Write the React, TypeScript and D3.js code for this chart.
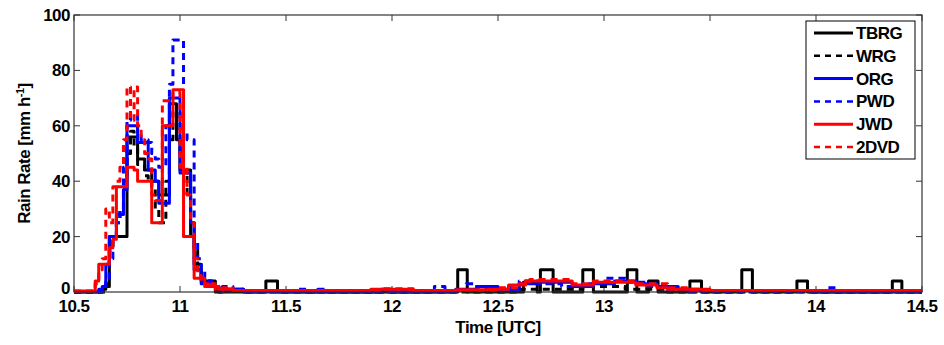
import React from "react";
import * as d3 from "d3";

// storm core sampled every minute starting at T0 (hours UTC)
const T0 = 10.6;
const tbrgMain = [0, 0, 1, 2, 20, 20, 20, 20, 20, 56, 56, 56, 48, 48, 44, 44, 40, 40, 35, 35, 35, 68, 68, 55, 44, 44, 44, 20, 10, 10, 4, 4, 4, 4, 0, 0, 0];
const wrgMain = [0, 0, 0, 3, 15, 20, 25, 30, 40, 50, 58, 52, 46, 46, 42, 40, 38, 30, 25, 25, 40, 55, 65, 65, 50, 42, 35, 25, 15, 8, 5, 3, 2, 2, 1, 0, 0];
const orgMain = [0, 1, 2, 10, 20, 20, 28, 28, 37, 60, 60, 60, 54, 54, 54, 44, 44, 40, 32, 32, 32, 70, 70, 70, 43, 43, 43, 25, 8, 8, 3, 3, 4, 2, 2, 1, 0];
const pwdMain = [0, 0, 2, 5, 12, 20, 25, 30, 45, 62, 64, 64, 58, 55, 55, 54, 50, 48, 45, 45, 60, 75, 91, 91, 91, 58, 55, 55, 18, 12, 8, 5, 4, 3, 2, 1, 1];
const jwdMain = [4, 10, 10, 10, 16, 19, 38, 38, 38, 45, 45, 44, 40, 40, 40, 40, 25, 25, 25, 60, 60, 60, 73, 73, 73, 20, 20, 20, 5, 5, 5, 2, 2, 3, 2, 1, 1];
const dvdMain = [3, 8, 12, 30, 25, 38, 40, 45, 55, 74, 62, 74, 60, 55, 50, 48, 35, 33, 33, 69, 69, 69, 72, 72, 45, 45, 35, 25, 12, 6, 4, 3, 2, 2, 1, 1, 1];

// light rain afterwards: [time, rate] break points, each held until the next
const tbrgTail: [number, number][] = [
  [11.2, 0], [11.405, 4], [11.46, 0], [12.31, 8], [12.355, 0], [12.62, 3.5], [12.685, 0],
  [12.7, 8], [12.76, 0], [12.9, 8], [12.95, 0], [13.11, 8], [13.155, 0], [13.21, 4], [13.255, 0],
  [13.405, 4], [13.46, 0], [13.65, 8], [13.7, 0], [13.91, 4], [13.96, 0], [14.36, 4], [14.405, 0], [14.5, 0],
];
const wrgTail: [number, number][] = [
  [11.2, 1], [11.3, 0], [12.6, 1], [12.9, 2], [13.1, 1], [13.3, 0], [14.5, 0],
];
const orgTail: [number, number][] = [
  [11.2, 1], [11.3, 0], [11.95, 1], [12.0, 0], [12.3, 1], [12.4, 2], [12.5, 1], [12.6, 3], [12.7, 3.5],
  [12.85, 2], [12.95, 3], [13.05, 4], [13.15, 3], [13.25, 2], [13.35, 1], [13.45, 0.5], [14.0, 0], [14.5, 0],
];
const pwdTail: [number, number][] = [
  [11.2, 2], [11.25, 1], [11.3, 0.5], [11.55, 1], [11.6, 0], [11.65, 1], [11.7, 0], [12.2, 2], [12.25, 0.5],
  [12.35, 3], [12.4, 1], [12.55, 2], [12.6, 4], [12.7, 3], [12.8, 2], [12.9, 3], [13.0, 5], [13.1, 3.5],
  [13.2, 2], [13.3, 1], [13.4, 0], [14.05, 1.5], [14.1, 0], [14.5, 0],
];
const jwdTail: [number, number][] = [
  [11.2, 1], [11.25, 0.5], [11.9, 1], [12.1, 0.5], [12.3, 0.8], [12.45, 1], [12.55, 2.5], [12.63, 4],
  [12.85, 2.5], [12.95, 3.5], [13.15, 2.5], [13.25, 1.5], [13.3, 1], [13.5, 0.5], [14.5, 0.5],
];
const dvdTail: [number, number][] = [
  [11.2, 1.5], [11.25, 0.5], [11.95, 1.2], [12.1, 0.5], [12.5, 1.5], [12.6, 3], [12.65, 4.5], [12.85, 3],
  [12.95, 4], [13.15, 3], [13.3, 1.5], [13.4, 0.5], [14.5, 0.5],
];

const xTicks = [10.5, 11, 11.5, 12, 12.5, 13, 13.5, 14, 14.5];
const yTicks = [0, 20, 40, 60, 80, 100];

const series = [
  { name: "TBRG", lead: 0, main: tbrgMain, tail: tbrgTail, color: "#000000", dash: "" },
  { name: "WRG", lead: 0, main: wrgMain, tail: wrgTail, color: "#000000", dash: "7,5" },
  { name: "ORG", lead: 0, main: orgMain, tail: orgTail, color: "#0000ff", dash: "" },
  { name: "PWD", lead: 0, main: pwdMain, tail: pwdTail, color: "#0000ff", dash: "7,5" },
  { name: "JWD", lead: 0.4, main: jwdMain, tail: jwdTail, color: "#ff0000", dash: "" },
  { name: "2DVD", lead: 0.4, main: dvdMain, tail: dvdTail, color: "#ff0000", dash: "7,5" },
];

const W = 944;
const H = 345;
const left = 74, right = 922, top = 15, bottom = 292;
const font = "'Liberation Sans', Arial, sans-serif";

export default function App() {
  const x = d3.scaleLinear().domain([10.5, 14.5]).range([left, right]);
  const y = d3.scaleLinear().domain([0, 100]).range([bottom, top]);
  const line = d3
    .line<[number, number]>()
    .x((d) => x(d[0]))
    .y((d) => y(d[1]))
    .curve(d3.curveStepAfter);

  const axisColor = "#333333";

  return (
    <svg
      width={W}
      height={H}
      style={{ position: "absolute", left: 0, top: 0, background: "#fff" }}
      fontFamily={font}
      fontWeight="bold"
    >
      <defs>
        <clipPath id="plot">
          <rect x={left} y={top - 2} width={right - left} height={bottom - top + 4} />
        </clipPath>
      </defs>
      <rect x={left} y={top} width={right - left} height={bottom - top} fill="#fff" />

      {/* ticks inside the box */}
      {xTicks.map((t) => (
        <g key={"x" + t}>
          <line x1={x(t)} x2={x(t)} y1={bottom} y2={bottom - 6} stroke={axisColor} />
          <line x1={x(t)} x2={x(t)} y1={top} y2={top + 6} stroke={axisColor} />
          <text x={x(t)} y={bottom + 20} fontSize={17} textAnchor="middle" fill="#000" letterSpacing={-0.5}>
            {String(t)}
          </text>
        </g>
      ))}
      {yTicks.map((v) => (
        <g key={"y" + v}>
          <line x1={left} x2={left + 6} y1={y(v)} y2={y(v)} stroke={axisColor} />
          <line x1={right} x2={right - 6} y1={y(v)} y2={y(v)} stroke={axisColor} />
          <text x={left - 4} y={y(v) + (v === 0 ? 2 : 6)} fontSize={17} textAnchor="end" fill="#000" letterSpacing={-0.5}>
            {v}
          </text>
        </g>
      ))}

      <g clipPath="url(#plot)">
        {series.map((s) => {
          const pts: [number, number][] = [
            [10.5, s.lead],
            ...s.main.map((v, i) => [T0 + i / 60, v] as [number, number]),
            ...s.tail,
          ];
          return (
            <path
              key={s.name}
              d={line(pts) || ""}
              fill="none"
              stroke={s.color}
              strokeWidth={3}
              strokeDasharray={s.dash || undefined}
              strokeLinejoin="round"
            />
          );
        })}
      </g>

      <rect x={left} y={top} width={right - left} height={bottom - top} fill="none" stroke={axisColor} strokeWidth={1.2} />

      {/* legend */}
      <g>
        <rect x={806} y={21} width={109} height={138} fill="#fff" stroke="#000" strokeWidth={1} />
        {series.map((s, i) => {
          const ly = 33 + i * 22.8;
          return (
            <g key={"leg" + s.name}>
              <line
                x1={814}
                x2={853}
                y1={ly}
                y2={ly}
                stroke={s.color}
                strokeWidth={s.dash ? 2.5 : 3}
                strokeDasharray={s.dash ? "6,5" : undefined}
              />
              <text x={856} y={ly + 6} fontSize={17} fill="#000" letterSpacing={-0.5}>
                {s.name}
              </text>
            </g>
          );
        })}
      </g>

      <text x={(left + right) / 2} y={333} fontSize={17} textAnchor="middle" fill="#000" letterSpacing={-0.5}>
        Time [UTC]
      </text>
      <text
        transform={`translate(30,${(top + bottom) / 2}) rotate(-90)`}
        fontSize={17}
        textAnchor="middle"
        fill="#000"
        letterSpacing={-0.5}
      >
        Rain Rate [mm h
        <tspan fontSize={11} dy={-6}>-1</tspan>
        <tspan dy={6}>]</tspan>
      </text>
    </svg>
  );
}
